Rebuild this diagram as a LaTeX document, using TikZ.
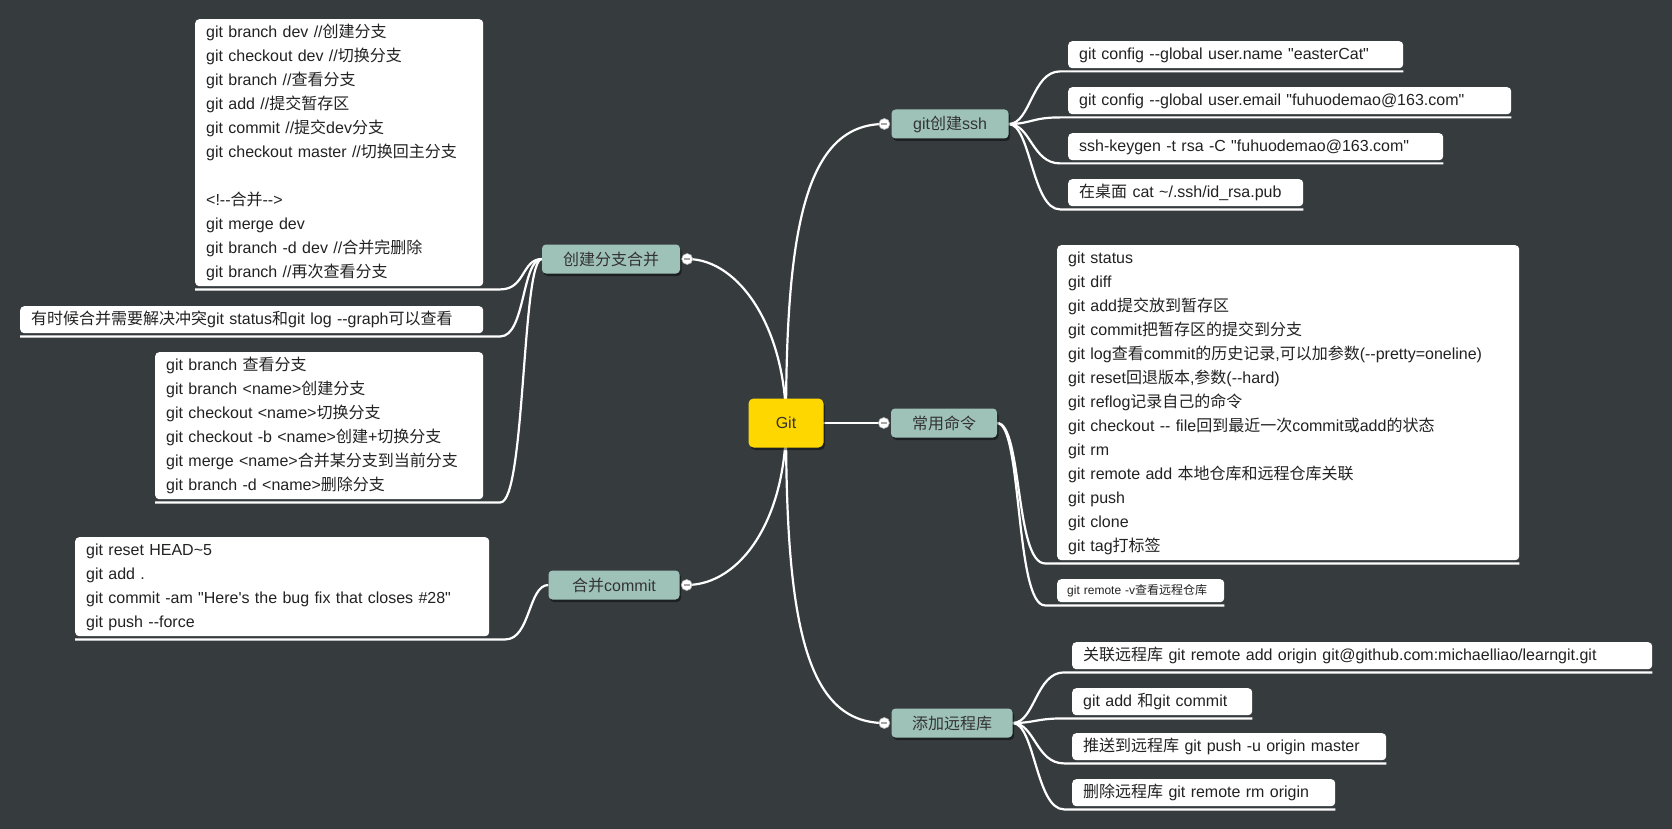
\documentclass[tikz,border=0pt]{standalone}
\usepackage{fontspec}
\usetikzlibrary{calc,shadows}
\newfontfamily\latf{Liberation Sans}[Ligatures=NoCommon]
\newfontfamily\cjkf{Noto Sans CJK SC}
\XeTeXinterchartokenstate=1
\newXeTeXintercharclass\cjkcls
\newcount\mycc
\mycc="4E00
\loop
\XeTeXcharclass\mycc=\cjkcls
\advance\mycc by 1
\ifnum\mycc<"A000
\repeat
\XeTeXinterchartoks 0 \cjkcls = {\cjkf}
\XeTeXinterchartoks 4095 \cjkcls = {\cjkf}
\XeTeXinterchartoks \cjkcls 0 = {\latf}
\XeTeXinterchartoks \cjkcls 4095 = {\latf}
\definecolor{bgc}{HTML}{363C3E}
\definecolor{brc}{HTML}{9FC2B8}
\definecolor{goldc}{HTML}{FFD700}
\definecolor{txtc}{HTML}{222222}
\definecolor{brtxt}{HTML}{333333}
\pgfdeclarelayer{bglayer}
\pgfdeclarelayer{lines}
\pgfsetlayers{bglayer,lines,main}
\begin{document}
\begin{tikzpicture}[x=1pt, y=-1pt,
  every node/.style={font=\latf\fontsize{16}{24}\selectfont},
  leaf/.style={fill=white, rounded corners=4pt, inner xsep=11pt, inner ysep=1.5pt, align=left, anchor=north west, text=txtc, execute at begin node=\strut, execute at end node=\strut},
  br/.style={fill=brc, rounded corners=4pt, text=brtxt, minimum height=29pt, inner sep=0pt, drop shadow={shadow xshift=1.5pt, shadow yshift=-2.5pt, opacity=0.45, fill=black}},
  conn/.style={draw=white, line width=2.2pt},
  colps/.style={circle, fill=white, draw=gray!60, line width=0.6pt, minimum size=11pt, inner sep=0pt, path picture={\draw[gray!70, line width=1.3pt] ([xshift=2.5pt]path picture bounding box.west) -- ([xshift=-2.5pt]path picture bounding box.east);}}
]
\useasboundingbox (0,0) rectangle (1672,829);
\begin{pgfonlayer}{bglayer}
\fill[bgc] (0,0) rectangle (1672,829);
\end{pgfonlayer}

% root and branches
\node[fill=goldc, rounded corners=5pt, minimum width=75pt, minimum height=49pt, inner sep=0pt, text=brtxt, drop shadow={shadow xshift=1.5pt, shadow yshift=-2.5pt, opacity=0.45, fill=black}] (git) at (786,423) {Git};
\node[br, minimum width=117pt] (ssh) at (950,124) {git创建ssh};
\node[br, minimum width=106pt] (cmd) at (944,423) {常用命令};
\node[br, minimum width=121pt] (rem) at (952,723) {添加远程库};
\node[br, minimum width=138pt] (mrg) at (611,259) {创建分支合并};
\node[br, minimum width=131pt] (cmt) at (614,585) {合并commit};

% collapse circles
\node[colps] (sshc) at ($(ssh.west)+(-7,0)$) {};
\node[colps] (cmdc) at ($(cmd.west)+(-7,0)$) {};
\node[colps] (remc) at ($(rem.west)+(-7,0)$) {};
\node[colps] (mrgc) at ($(mrg.east)+(7,0)$) {};
\node[colps] (cmtc) at ($(cmt.east)+(7,0)$) {};

% ssh leaves
\node[leaf, text width=313pt] (s1) at (1068,41) {git config --global user.name "easterCat"};
\node[leaf, text width=421pt] (s2) at (1068,87) {git config --global user.email "fuhuodemao@163.com"};
\node[leaf, text width=353pt] (s3) at (1068,133) {ssh-keygen -t rsa -C "fuhuodemao@163.com"};
\node[leaf, text width=213pt] (s4) at (1068,179) {在桌面 cat \textasciitilde/.ssh/id\_rsa.pub};

% command leaves
\node[leaf, text width=440pt] (c1) at (1057,245) {git status\\
git diff\\
git add提交放到暂存区\\
git commit把暂存区的提交到分支\\
git log查看commit的历史记录,可以加参数(--pretty=oneline)\\
git reset回退版本,参数(--hard)\\
git reflog记录自己的命令\\
git checkout -- file回到最近一次commit或add的状态\\
git rm\\
git remote add 本地仓库和远程仓库关联\\
git push\\
git clone\\
git tag打标签};
\node[leaf, text width=147pt, inner xsep=10pt, inner ysep=2.5pt, font=\latf\fontsize{12}{18}\selectfont] (c2) at (1057,579) {git remote -v查看远程仓库};

% remote leaves
\node[leaf, text width=558pt] (r1) at (1072,642) {关联远程库 git remote add origin git@github.com:michaelliao/learngit.git};
\node[leaf, text width=158pt] (r2) at (1072,688) {git add 和git commit};
\node[leaf, text width=292pt] (r3) at (1072,733) {推送到远程库 git push -u origin master};
\node[leaf, text width=241pt] (r4) at (1072,779) {删除远程库 git remote rm origin};

% left leaves
\node[leaf, text width=266pt] (L1) at (195,19) {git branch dev //创建分支\\
git checkout dev //切换分支\\
git branch //查看分支\\
git add //提交暂存区\\
git commit //提交dev分支\\
git checkout master //切换回主分支\\
\mbox{}\\
<!--合并-->\\
git merge dev\\
git branch -d dev //合并完删除\\
git branch //再次查看分支};
\node[leaf, text width=441pt] (L2) at (20,306) {有时候合并需要解决冲突git status和git log --graph可以查看};
\node[leaf, text width=306pt] (L3) at (155,352) {git branch 查看分支\\
git branch <name>创建分支\\
git checkout <name>切换分支\\
git checkout -b <name>创建+切换分支\\
git merge <name>合并某分支到当前分支\\
git branch -d <name>删除分支};
\node[leaf, text width=392pt] (M1) at (75,537) {git reset HEAD\textasciitilde{}5\\
git add .\\
git commit -am "Here's the bug fix that closes \#28"\\
git push --force};

% connectors
\begin{pgfonlayer}{lines}
\draw[conn] (git.center) .. controls (786,230) and (805,124) .. (sshc.center);
\draw[conn] (git.center) -- (cmdc.center);
\draw[conn] (git.center) .. controls (786,620) and (805,723) .. (remc.center);
\draw[conn] (git.center) .. controls (786,330) and (740,259) .. (mrgc.center);
\draw[conn] (git.center) .. controls (786,520) and (740,585) .. (cmtc.center);
\foreach \l in {s1,s2,s3,s4}
  \draw[conn] (ssh.east) .. controls +(22,0) and +(-28,0) .. ($(\l.south west)+(-8,3)$) -- ($(\l.south east)+(0,3)$);
\foreach \l in {c1,c2}
  \draw[conn] (cmd.east) .. controls +(25,0) and +(-30,0) .. ($(\l.south west)+(-12,3)$) -- ($(\l.south east)+(0,3)$);
\foreach \l in {r1,r2,r3,r4}
  \draw[conn] (rem.east) .. controls +(22,0) and +(-28,0) .. ($(\l.south west)+(-8,3)$) -- ($(\l.south east)+(0,3)$);
\foreach \l in {L1,L2,L3}
  \draw[conn] (mrg.west) .. controls +(-20,0) and +(25,0) .. ($(\l.south east)+(17,3)$) -- ($(\l.south west)+(0,3)$);
\draw[conn] (cmt.west) .. controls +(-20,0) and +(25,0) .. ($(M1.south east)+(16,3)$) -- ($(M1.south west)+(0,3)$);
\end{pgfonlayer}
\end{tikzpicture}
\end{document}
